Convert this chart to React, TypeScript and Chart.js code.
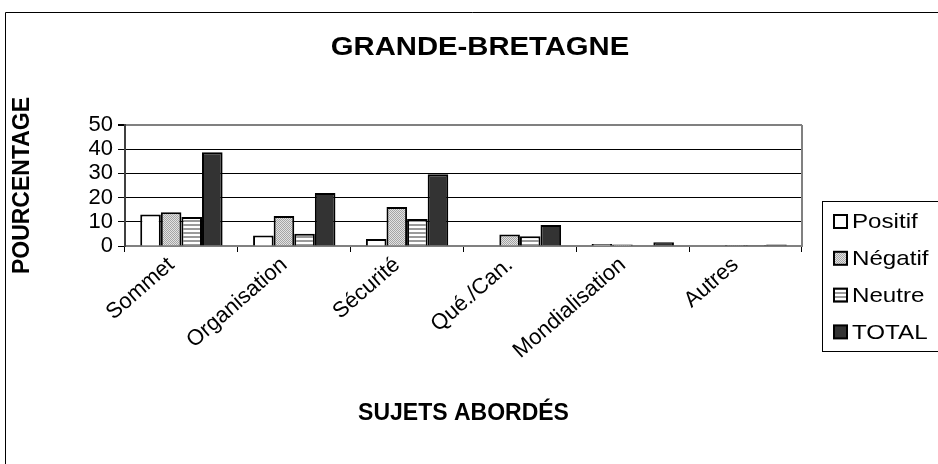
import React, { useEffect, useRef } from "react";
import { Chart, registerables } from "chart.js";

Chart.register(...registerables);

const chartTitle = "GRANDE-BRETAGNE";
const xTitle = "SUJETS ABORDÉS";
const yTitle = "POURCENTAGE";
const categories = ["Sommet", "Organisation", "Sécurité", "Qué./Can.", "Mondialisation", "Autres"];
const seriesNames = ["Positif", "Négatif", "Neutre", "TOTAL"];
const positif = [13, 4.3, 2.9, 0, 0.8, 0];
const negatif = [13.9, 12.4, 16.1, 4.8, 0.6, 0.4];
const neutre = [12, 5.1, 11.2, 4, 0, 0.4];
const total = [38.7, 21.9, 29.6, 8.7, 1.6, 0.6];
const yTicks = [0, 10, 20, 30, 40, 50];

const FONT = "'Liberation Sans', Arial, Helvetica, sans-serif";

function makeDotPattern(ctx: CanvasRenderingContext2D): CanvasPattern | string {
  const c = document.createElement("canvas");
  c.width = 2;
  c.height = 2;
  const g = c.getContext("2d")!;
  g.fillStyle = "#e2e2e2";
  g.fillRect(0, 0, 2, 2);
  g.fillStyle = "#a4a4a4";
  g.fillRect(0, 0, 1, 1);
  g.fillRect(1, 1, 1, 1);
  return ctx.createPattern(c, "repeat") || "#c4c4c4";
}

function makeStripePattern(ctx: CanvasRenderingContext2D): CanvasPattern | string {
  const c = document.createElement("canvas");
  c.width = 4;
  c.height = 4;
  const g = c.getContext("2d")!;
  g.fillStyle = "#ffffff";
  g.fillRect(0, 0, 4, 4);
  g.fillStyle = "#9a9a9a";
  g.fillRect(0, 0, 4, 2);
  return ctx.createPattern(c, "repeat") || "#c0c0c0";
}

export default function App() {
  const ref = useRef<HTMLCanvasElement | null>(null);

  useEffect(() => {
    const canvas = ref.current;
    if (!canvas) return;
    const ctx = canvas.getContext("2d")!;
    const fills: any[] = ["#ffffff", makeDotPattern(ctx), makeStripePattern(ctx), "#333333"];
    const values = [positif, negatif, neutre, total];

    const framePlugin = {
      id: "frame",
      beforeDraw(chart: any) {
        const c = chart.ctx;
        c.save();
        c.fillStyle = "#ffffff";
        c.fillRect(0, 0, chart.width, chart.height);
        c.strokeStyle = "#000000";
        c.lineWidth = 1;
        c.beginPath();
        c.moveTo(5.5, chart.height + 5);
        c.lineTo(5.5, 12.5);
        c.lineTo(chart.width + 5, 12.5);
        c.stroke();
        c.fillStyle = "#000000";
        c.font = `bold 25px ${FONT}`;
        c.textAlign = "center";
        c.textBaseline = "middle";
        c.translate(480, 48);
        c.scale(1.17, 1);
        c.fillText(chartTitle, 0, 0);
        c.restore();
      },
      beforeDatasetsDraw(chart: any) {
        const { ctx: c, chartArea } = chart;
        c.save();
        c.strokeStyle = "#808080";
        c.lineWidth = 2;
        c.beginPath();
        c.moveTo(chartArea.right, chartArea.top);
        c.lineTo(chartArea.right, chartArea.bottom);
        c.stroke();
        c.restore();
      },
      afterDraw(chart: any) {
        const c = chart.ctx;
        const lx = 822.5;
        const ly = 201.5;
        c.save();
        c.strokeStyle = "#000000";
        c.lineWidth = 1;
        c.strokeRect(lx, ly, 200, 150);
        c.textBaseline = "middle";
        c.textAlign = "left";
        chart.data.datasets.forEach((ds: any, i: number) => {
          const cy = 221.5 + i * 36.8;
          const size = 13;
          const sx = 834;
          const sy = cy - size / 2;
          c.fillStyle = ds.backgroundColor;
          c.fillRect(sx, sy, size, size);
          c.strokeStyle = "#000000";
          c.lineWidth = 2;
          c.strokeRect(sx, sy, size, size);
          c.save();
          c.fillStyle = "#000000";
          c.font = `21px ${FONT}`;
          c.translate(852, cy + 1);
          c.scale(1.15, 1);
          c.fillText(ds.label, 0, 0);
          c.restore();
        });
        c.restore();
      },
    };

    const chart = new Chart(canvas, {
      type: "bar",
      data: {
        labels: categories,
        datasets: seriesNames.map((name, i) => ({
          label: name,
          data: values[i],
          backgroundColor: fills[i],
          borderColor: "#000000",
          borderWidth: 2,
          borderSkipped: "bottom",
          categoryPercentage: 0.73,
          barPercentage: 1,
        })),
      },
      options: {
        responsive: false,
        animation: false,
        layout: { padding: { left: 0, right: 136, top: 125, bottom: 0 } },
        plugins: {
          legend: { display: false },
          tooltip: { enabled: false },
          title: { display: false },
        },
        scales: {
          x: {
            ticks: {
              color: "#000000",
              font: { family: FONT, size: 22 },
              minRotation: 41,
              maxRotation: 41,
              autoSkip: false,
              padding: 0,
              labelOffset: -10,
            },
            grid: {
              offset: true,
              drawOnChartArea: false,
              drawTicks: true,
              tickLength: 6,
              color: "#000000",
              lineWidth: 1,
            },
            border: { display: true, color: "#808080", width: 2 },
            title: {
              display: true,
              text: xTitle,
              color: "#000000",
              font: { family: FONT, size: 23, weight: "bold", lineHeight: 1.2 },
              padding: { top: 0, bottom: 37 },
            },
            afterFit(scale: any) {
              scale.height = 218;
            },
          },
          y: {
            min: 0,
            max: 50,
            afterBuildTicks(scale: any) {
              scale.ticks = yTicks.map((v) => ({ value: v }));
            },
            ticks: {
              color: "#000000",
              font: { family: FONT, size: 22 },
              padding: 5,
              stepSize: 10,
              autoSkip: false,
            },
            grid: {
              color: (c: any) => (c.tick && (c.tick.value === 50 || c.tick.value === 0) ? "#808080" : "#000000"),
              lineWidth: (c: any) => (c.tick && c.tick.value === 50 ? 2 : 1),
              tickColor: "#000000",
              tickLength: 7,
            },
            border: { display: true, color: "#404040", width: 2 },
            title: {
              display: true,
              text: yTitle,
              color: "#000000",
              font: { family: FONT, size: 23, weight: "bold", lineHeight: 1.2 },
              padding: { top: 9, bottom: 0 },
            },
            afterFit(scale: any) {
              scale.width = 125;
            },
          },
        },
      },
      plugins: [framePlugin],
    } as any);

    return () => {
      chart.destroy();
    };
  }, []);

  return (
    <div style={{ position: "absolute", left: 0, top: 0, width: 938, height: 464, background: "#ffffff" }}>
      <canvas ref={ref} width={938} height={464} style={{ display: "block", width: 938, height: 464 }} />
    </div>
  );
}
